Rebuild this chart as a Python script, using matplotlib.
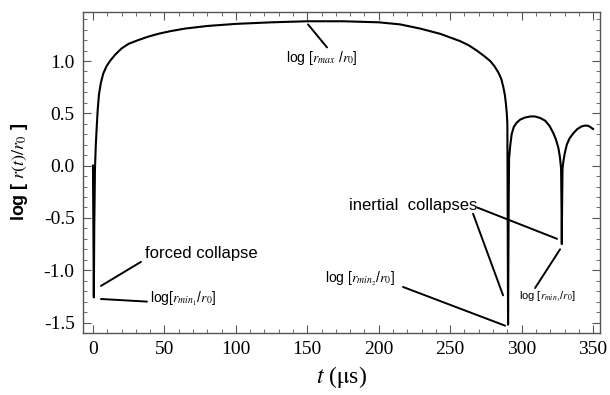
import matplotlib
matplotlib.use("Agg")
import matplotlib.pyplot as plt
from matplotlib.ticker import MultipleLocator

# radius history: time (us) and log[r(t)/r0]
t_us = [0.0, 0.3, 0.6, 0.9, 1.4, 2.0, 2.6, 3.3, 4.2, 5.5, 7.2, 9.5, 11.9,
        15.5, 20, 25, 31.7, 38, 45.7, 54, 64.4, 80, 100, 125, 150, 175, 200,
        215, 229, 243, 257, 263, 268.6, 274, 278, 281, 283.7, 285.7, 287.2,
        288.2, 289, 289.6, 290.0, 290.2, 290.5, 290.9, 291.2, 292, 293,
        294.5, 296.5, 299, 302.4, 306, 309.4, 313, 316.4, 319.5, 322.2, 324,
        325.7, 326.8, 327.6, 327.9, 328.1, 328.3, 328.6, 329.2, 330.2, 331.6,
        333.5, 336.2, 339, 342, 344.5, 346.7, 348.5, 350]
log_r = [0.0, -0.6, -1.26, -0.6, -0.03, 0.2, 0.36, 0.53, 0.68, 0.79, 0.88,
         0.95, 1.0, 1.06, 1.12, 1.165, 1.20, 1.23, 1.26, 1.285, 1.31, 1.335,
         1.355, 1.37, 1.38, 1.38, 1.37, 1.35, 1.31, 1.26, 1.19, 1.15, 1.10,
         1.045, 1.0, 0.95, 0.89, 0.83, 0.75, 0.68, 0.59, 0.5, 0.40, -0.4,
         -1.52, -0.4, 0.07, 0.19, 0.30, 0.37, 0.41, 0.44, 0.46, 0.47, 0.47,
         0.455, 0.43, 0.38, 0.31, 0.25, 0.17, 0.08, -0.03, -0.4, -0.75, -0.4,
         -0.03, 0.04, 0.12, 0.2, 0.26, 0.31, 0.35, 0.375, 0.383, 0.38, 0.365,
         0.35]

x_ticks = [0, 50, 100, 150, 200, 250, 300, 350]
y_ticks = [-1.5, -1.0, -0.5, 0.0, 0.5, 1.0]

plt.rcParams['mathtext.fontset'] = 'stix'

fig = plt.figure(figsize=(6.1, 3.95), dpi=100)
ax = fig.add_axes([0.136, 0.157, 0.848, 0.813])
ax.plot(t_us, log_r, color='black', lw=1.5, solid_joinstyle='round')

ax.set_xlim(-7, 355)
ax.set_ylim(-1.6, 1.47)
ax.set_xticks(x_ticks)
ax.set_yticks(y_ticks)
ax.set_xticklabels([str(v) for v in x_ticks])
ax.set_yticklabels(['%.1f' % v for v in y_ticks])
ax.xaxis.set_minor_locator(MultipleLocator(10))
ax.yaxis.set_minor_locator(MultipleLocator(0.1))
ax.tick_params(which='both', direction='in', top=True, right=True,
               color='#555555')
ax.tick_params(which='major', length=6, width=0.8, labelsize=14, pad=6)
ax.tick_params(which='minor', length=3, width=0.6)
for lab in ax.get_xticklabels() + ax.get_yticklabels():
    lab.set_family('Liberation Serif')
for s in ax.spines.values():
    s.set_color('#555555')
    s.set_linewidth(1.0)

ax.set_xlabel(r'$t$ ($\mathrm{\mu}$s)', fontsize=17, family='Liberation Serif', labelpad=4)
ax.set_ylabel(r'log [ $\mathit{r}(t)/r_0$ ]', fontsize=13, family='Liberation Sans',
              fontweight='bold', labelpad=10)

lp = dict(arrowstyle='-', color='black', lw=1.4, shrinkA=0, shrinkB=0)
sans = 'Liberation Sans'

# r_max
ax.annotate('', xy=(150.5, 1.35), xytext=(163.8, 1.13), arrowprops=lp)
ax.text(160, 1.03, r'log [$r_{max}$ /$r_0$]', fontsize=10, family=sans,
        ha='center', va='center')
# forced collapse
ax.annotate('', xy=(5.6, -1.15), xytext=(33.6, -0.92), arrowprops=lp)
ax.text(36.4, -0.84, 'forced collapse', fontsize=12, family=sans,
        ha='left', va='center')
# r_min1
ax.annotate('', xy=(5.6, -1.275), xytext=(37.8, -1.30), arrowprops=lp)
ax.text(40, -1.275, r'log[$r_{min_1}$/$r_0$]', fontsize=10, family=sans,
        ha='left', va='center')
# inertial collapses
ax.text(179, -0.377, 'inertial  collapses', fontsize=12, family=sans,
        ha='left', va='center')
ax.annotate('', xy=(287, -1.24), xytext=(266, -0.46), arrowprops=lp)
ax.annotate('', xy=(324.8, -0.70), xytext=(268.8, -0.40), arrowprops=lp)
# r_min2
ax.text(162.4, -1.08, r'log [$r_{min_2}$/$r_0$]', fontsize=10, family=sans,
        ha='left', va='center')
ax.annotate('', xy=(288.4, -1.53), xytext=(217, -1.16), arrowprops=lp)
# r_min3
ax.text(298, -1.256, r'log [$r_{min_3}$/$r_0$]', fontsize=8, family=sans,
        ha='left', va='center')
ax.annotate('', xy=(326.9, -0.80), xytext=(309.4, -1.17), arrowprops=lp)

fig.savefig('out.png', dpi=100)
